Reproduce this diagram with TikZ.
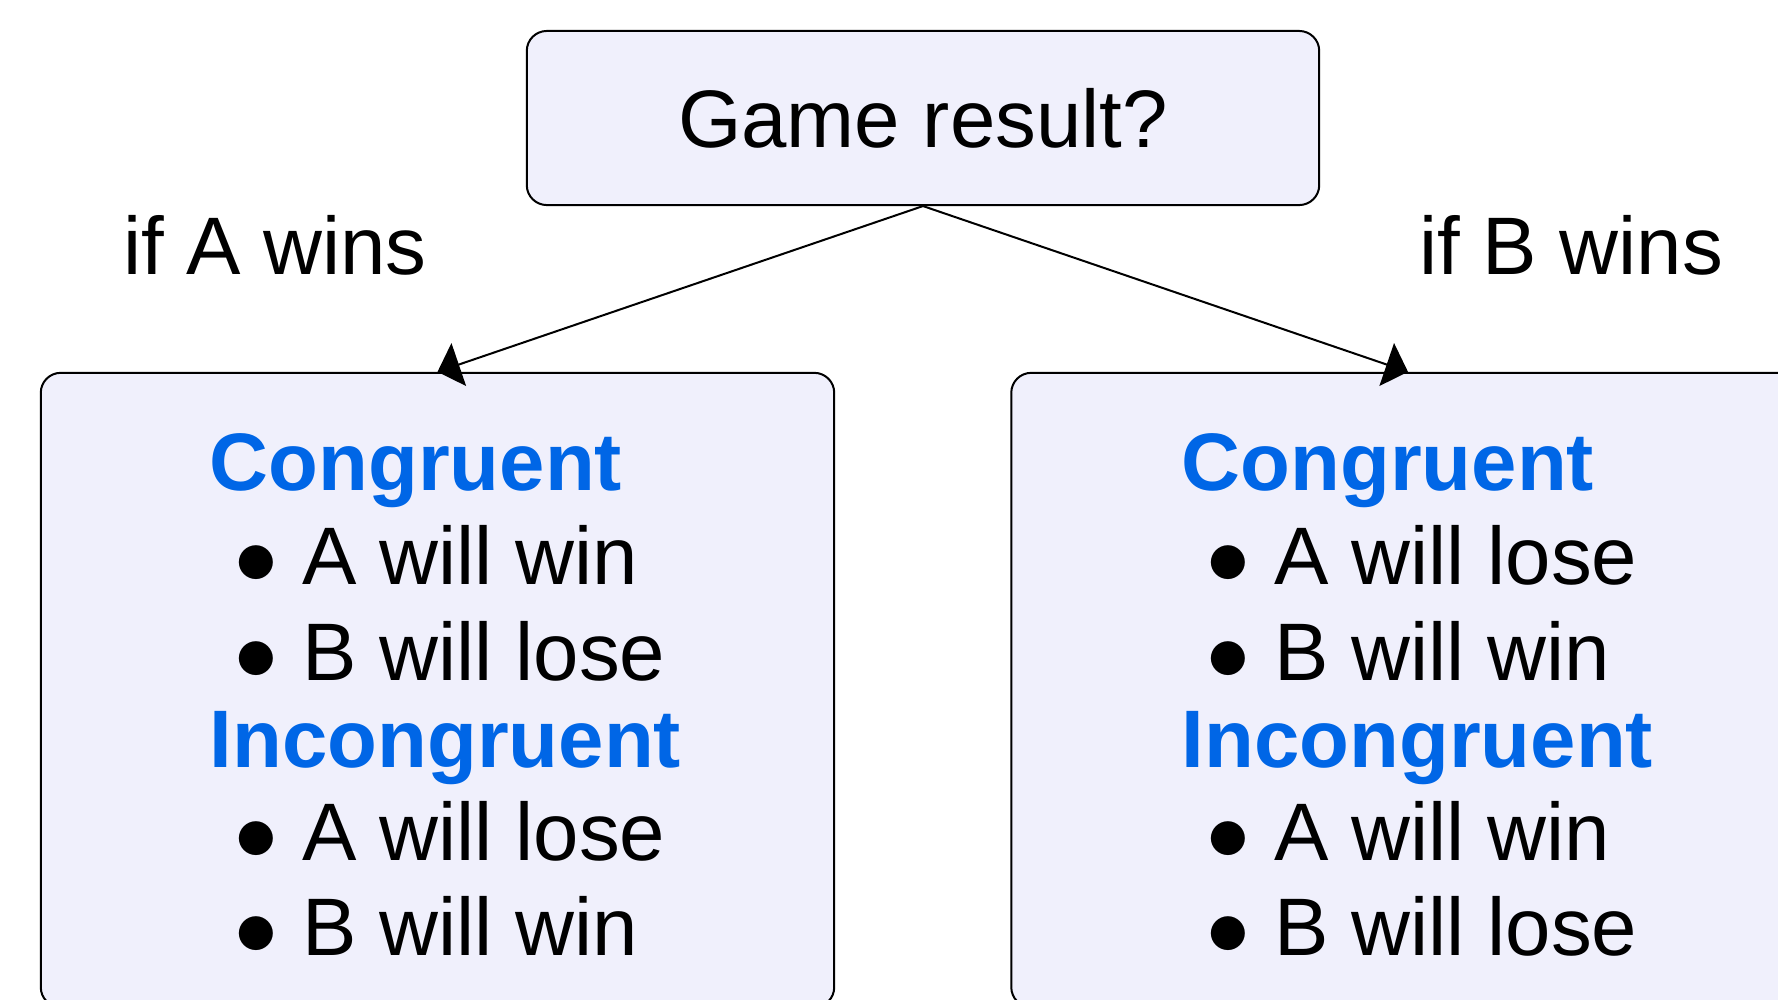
\documentclass[tikz,border=0pt]{standalone}
\usepackage{fontspec}
\setmainfont{Liberation Sans}
\usetikzlibrary{arrows.meta}
\definecolor{boxfill}{RGB}{240,240,252}
\definecolor{headblue}{RGB}{0,102,230}
\newcommand{\bigfont}{\fontsize{23.2}{27}\selectfont}
\newcommand{\itm}[1]{\hspace*{0.25cm}\makebox[0.68cm][l]{$\bullet$}#1}
\tikzset{
  question/.style={rectangle, rounded corners=0.2cm, draw, line width=0.02cm, fill=boxfill, minimum width=7.92cm, minimum height=1.74cm, inner sep=0pt},
  outcome/.style={rectangle, rounded corners=0.2cm, draw, line width=0.02cm, fill=boxfill, minimum width=7.93cm, minimum height=6.34cm, inner sep=0pt},
  branchlabel/.style={anchor=base, inner sep=0pt},
  heading/.style={anchor=base west, inner sep=0pt, text=headblue, font=\bigfont\bfseries},
  entry/.style={anchor=base west, inner sep=0pt},
  resultedge/.style={line width=0.02cm, -{Triangle[length=0.225cm, width=0.45cm]}}
}

\begin{document}
\begin{tikzpicture}[x=0.01cm, y=-0.01cm, font=\bigfont]
  \useasboundingbox (0,0) rectangle (1778,999);
  \clip (0,0) rectangle (1778,999);

  \node[question] (result) at (923,118) {Game result?};
  \node[outcome] (leftbox) at (437.5,690) {};
  \node[outcome] (rightbox) at (1408,690) {};

  \node[branchlabel] (awins) at (275,274) {if A wins};
  \node[branchlabel] (bwins) at (1571,274) {if B wins};

  \draw[resultedge] (result.south) -- (leftbox.north);
  \draw[resultedge] (result.south) -- (rightbox.north);

  % if A wins
  \node[heading] (lcong) at (209,490) {Congruent};
  \node[entry] (lcong1) at (209,584) {\itm{A will win}};
  \node[entry] (lcong2) at (209,680) {\itm{B will lose}};
  \node[heading] (lincong) at (209,767) {Incongruent};
  \node[entry] (lincong1) at (209,860) {\itm{A will lose}};
  \node[entry] (lincong2) at (209,955) {\itm{B will win}};

  % if B wins
  \node[heading] (rcong) at (1181,490) {Congruent};
  \node[entry] (rcong1) at (1181,584) {\itm{A will lose}};
  \node[entry] (rcong2) at (1181,680) {\itm{B will win}};
  \node[heading] (rincong) at (1181,767) {Incongruent};
  \node[entry] (rincong1) at (1181,860) {\itm{A will win}};
  \node[entry] (rincong2) at (1181,955) {\itm{B will lose}};
\end{tikzpicture}
\end{document}
